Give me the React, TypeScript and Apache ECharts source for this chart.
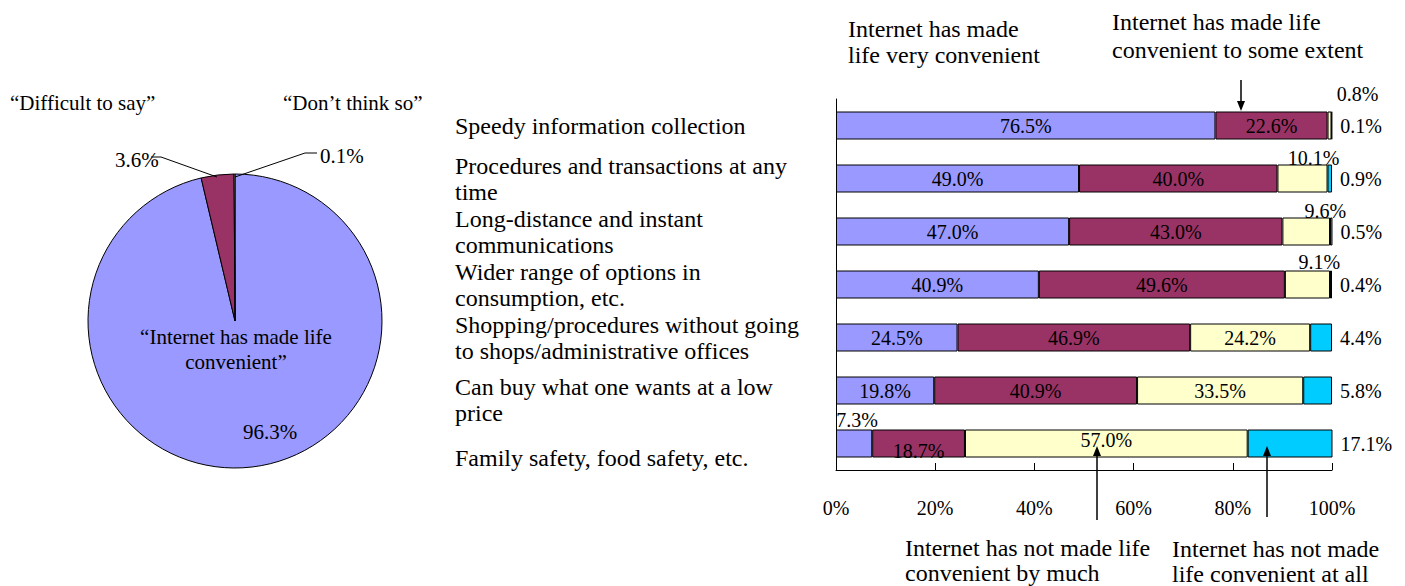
import React, { useEffect, useRef } from 'react';
import * as echarts from 'echarts';

const categories = [
  'Speedy information collection',
  'Procedures and transactions at any\ntime',
  'Long-distance and instant\ncommunications',
  'Wider range of options in\nconsumption, etc.',
  'Shopping/procedures without going\nto shops/administrative offices',
  'Can buy what one wants at a low\nprice',
  'Family safety, food safety, etc.',
];
const veryConvenient = [76.5, 49.0, 47.0, 40.9, 24.5, 19.8, 7.3];
const someExtent = [22.6, 40.0, 43.0, 49.6, 46.9, 40.9, 18.7];
const notByMuch = [0.8, 10.1, 9.6, 9.1, 24.2, 33.5, 57.0];
const notAtAll = [0.1, 0.9, 0.5, 0.4, 4.4, 5.8, 17.1];
const seriesNames = [
  'Internet has made life very convenient',
  'Internet has made life convenient to some extent',
  'Internet has not made life convenient by much',
  'Internet has not made life convenient at all',
];
const seriesColors = ['#9999FF', '#993366', '#FFFFCC', '#00CCFF'];

const pieNames = ['“Internet has made life convenient”', '“Difficult to say”', '“Don’t think so”'];
const pieValues = [96.3, 3.6, 0.1];
const pieColors = ['#9999FF', '#993366', '#FFFFCC'];

const FONT = '"Liberation Serif", "Times New Roman", serif';

// per-label placement tweaks (series index -> row index -> label options)
const labelOverrides: Record<number, Record<number, any>> = {
  0: { 6: { position: 'top', distance: 0, offset: [3, 0] } },
  1: { 6: { offset: [0, 7] } },
  2: {
    0: { position: 'top', distance: 5, offset: [28, -3] },
    1: { position: 'top', distance: 0, offset: [11, 3] },
    2: { position: 'top', distance: 0, offset: [19, 3] },
    3: { position: 'top', distance: 0, offset: [12, 1] },
    6: { offset: [0, -4] },
  },
};

function txt(x: number, y: number, text: string, size: number, align = 'left', lineHeight?: number) {
  return {
    type: 'text',
    x,
    y,
    z: 100,
    silent: true,
    style: {
      text,
      fill: '#000',
      fontSize: size,
      fontFamily: FONT,
      align,
      verticalAlign: 'middle',
      textAlign: align,
      textVerticalAlign: 'middle',
      lineHeight: lineHeight || Math.round(size * 1.15),
    },
  };
}

function arrow(x: number, y1: number, y2: number) {
  const dir = y2 > y1 ? 1 : -1;
  return [
    { type: 'line', z: 100, silent: true, shape: { x1: x, y1, x2: x, y2: y2 - dir * 8 }, style: { stroke: '#000', lineWidth: 1.5 } },
    {
      type: 'polygon',
      z: 100,
      silent: true,
      shape: { points: [[x - 4, y2 - dir * 10], [x + 4, y2 - dir * 10], [x, y2]] },
      style: { fill: '#000' },
    },
  ];
}

export default function App() {
  const ref = useRef<HTMLDivElement>(null);
  useEffect(() => {
    if (!ref.current) return;
    const chart = echarts.init(ref.current, undefined, { renderer: 'svg' });
    const stacks = [veryConvenient, someExtent, notByMuch, notAtAll];
    const barSeries = stacks.map((vals, si) => ({
      type: 'bar',
      name: seriesNames[si],
      stack: 'total',
      barWidth: 28,
      silent: true,
      itemStyle: { color: seriesColors[si], borderColor: '#000', borderWidth: 1 },
      label: {
        show: true,
        position: si === 3 ? 'right' : 'inside',
        distance: si === 3 ? 8 : 5,
        formatter: (p: any) => Number(p.value).toFixed(1) + '%',
        color: '#000',
        fontSize: 20,
        fontFamily: FONT,
      },
      data: vals.map((v, ri) => {
        const o = labelOverrides[si] && labelOverrides[si][ri];
        return o ? { value: v, label: o } : v;
      }),
    }));

    const pieSeries = {
      type: 'pie',
      center: [235, 321],
      radius: 147,
      startAngle: 90,
      clockwise: true,
      silent: true,
      z: 1,
      label: { show: false },
      labelLine: { show: false },
      itemStyle: { borderColor: '#000', borderWidth: 1 },
      data: pieValues.map((v, i) => ({ value: v, name: pieNames[i], itemStyle: { color: pieColors[i] } })),
    };

    chart.setOption({
      animation: false,
      textStyle: { fontFamily: FONT },
      grid: { left: 836, right: 73, top: 99, bottom: 116, containLabel: false },
      xAxis: {
        type: 'value',
        min: 0,
        max: 100,
        interval: 20,
        axisLine: { show: true, lineStyle: { color: '#000', width: 1 } },
        axisTick: { show: true, inside: true, length: 7, lineStyle: { color: '#000' } },
        splitLine: { show: false },
        axisLabel: { formatter: '{value}%', color: '#000', fontSize: 20, fontFamily: FONT, margin: 28 },
      },
      yAxis: {
        type: 'category',
        inverse: true,
        data: categories,
        axisLine: { show: true, lineStyle: { color: '#000', width: 1 } },
        axisTick: { show: false },
        axisLabel: {
          interval: 0,
          hideOverlap: false,
          align: 'left',
          margin: 381,
          color: '#000',
          formatter: (v: string, i: number) => {
            const lines = v.split('\n').map((l) => `{n|${l}}`);
            if (i === 5) lines.unshift('{sp6|}');
            if (i === 6) lines.unshift('{sp7|}');
            return lines.join('\n');
          },
          rich: {
            n: { fontSize: 24, lineHeight: 26, fontFamily: FONT, color: '#000' },
            sp6: { fontSize: 10, lineHeight: 18, height: 18 },
            sp7: { fontSize: 10, lineHeight: 28, height: 28 },
          },
        },
      },
      series: [pieSeries, ...barSeries],
      graphic: [
        txt(10, 103, '“Difficult to say”', 21),
        txt(283, 103, '“Don’t think so”', 21),
        txt(115, 160, '3.6%', 21),
        txt(320, 156, '0.1%', 21),
        txt(236, 349, '“Internet has made life\nconvenient”', 21, 'center', 25),
        txt(243, 432, '96.3%', 21),
        {
          type: 'polyline',
          z: 100,
          silent: true,
          shape: { points: [[151, 157], [161, 157], [217, 177]] },
          style: { stroke: '#000', lineWidth: 1, fill: null },
        },
        {
          type: 'polyline',
          z: 100,
          silent: true,
          shape: { points: [[235, 177], [305, 153], [317, 153]] },
          style: { stroke: '#000', lineWidth: 1, fill: null },
        },
        txt(848, 42, 'Internet has made\nlife very convenient', 24, 'left', 26),
        txt(1112, 36, 'Internet has made life\nconvenient to some extent', 24, 'left', 28),
        txt(905, 560, 'Internet has not made life\nconvenient by much', 24, 'left', 25),
        txt(1172, 561, 'Internet has not made\nlife convenient at all', 24, 'left', 25),
        ...arrow(1241, 80, 111),
        ...arrow(1097, 520, 446),
        ...arrow(1267, 517, 446),
      ],
    } as any);
    return () => chart.dispose();
  }, []);
  return <div ref={ref} style={{ position: 'absolute', left: 0, top: 0, width: 1405, height: 586 }} />;
}
